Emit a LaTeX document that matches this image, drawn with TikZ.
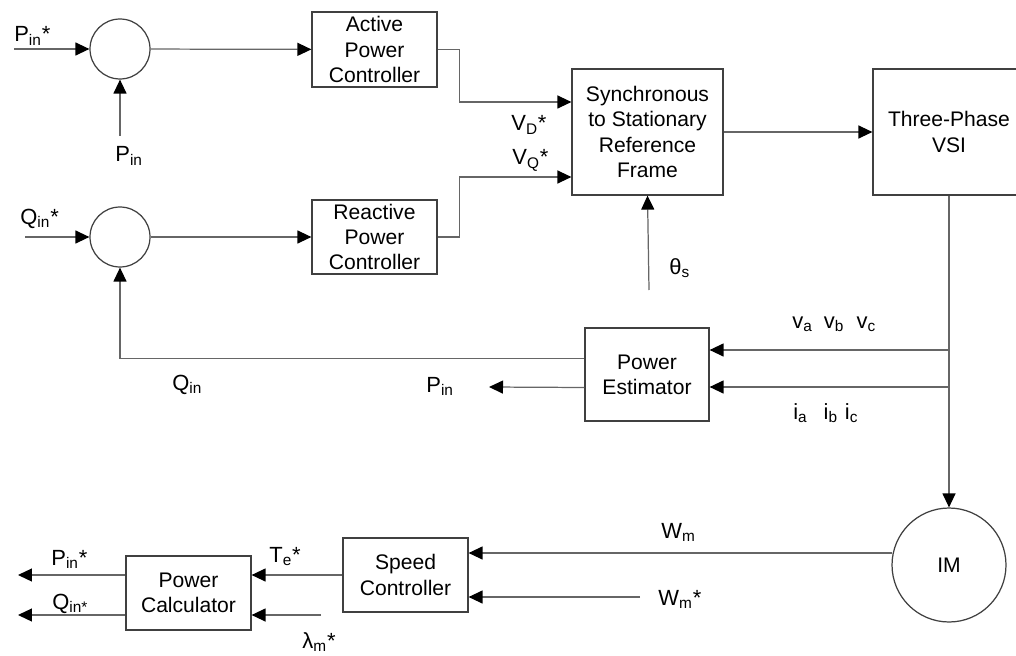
\documentclass[tikz,border=0pt]{standalone}
\usepackage{fontspec}
\setmainfont{Liberation Sans}
\usetikzlibrary{arrows.meta, calc, positioning}

\begin{document}
\begin{tikzpicture}[x=0.02cm, y=-0.02cm,
  >={Triangle[length=0.28cm, width=0.26cm, color=black]},
  every node/.style={font=\fontsize{12}{14.4}\selectfont},
  line/.style={draw=black!60, line width=0.7pt},
  block/.style={draw=black!75, line width=0.7pt, align=center, inner sep=0pt,
    minimum width=2.5cm, minimum height=1.5cm},
  junction/.style={circle, draw=black!75, line width=0.7pt, inner sep=0pt,
    minimum size=1.2cm},
  lbl/.style={anchor=base west, inner sep=0pt, font=\fontsize{12.5}{15}\selectfont}
]
  \useasboundingbox (0,0) rectangle (1016,655);

  % summing junctions and control blocks
  \node[junction] (sumP) at (120,49) {};
  \node[junction] (sumQ) at (120,237) {};
  \node[block] (apc) at (374.5,49.5) {Active\\Power\\Controller};
  \node[block, minimum height=1.48cm] (rpc) at (374.5,237) {Reactive\\Power\\Controller};
  \node[block, minimum width=3.02cm, minimum height=2.52cm] (ssrf) at (647.5,132)
    {Synchronous\\to Stationary\\Reference\\Frame};
  \node[block, minimum width=3.04cm, minimum height=2.52cm] (vsi) at (949,132) {Three-Phase\\VSI};
  \node[block, minimum width=2.48cm, minimum height=1.86cm] (pe) at (647,374.5) {Power\\Estimator};
  \node[junction, minimum size=2.28cm] (im) at (949,565) {IM};
  \node[block, minimum height=1.48cm] (sc) at (405.5,575) {Speed\\Controller};
  \node[block, minimum height=1.48cm] (pc) at (188.5,593) {Power\\Calculator};

  % free ends of the signal lines
  \coordinate (pinref) at (14,49);
  \coordinate (pinfb) at (120,136);
  \coordinate (qinref) at (25,237);
  \coordinate (theta) at (649,290);
  \coordinate (tapv) at (949,350);
  \coordinate (tapi) at (949,387);
  \coordinate (pinout) at (489,387);
  \coordinate (wmref) at (640,597);
  \coordinate (lamref) at (321,615);
  \coordinate (pout) at (18,575);
  \coordinate (qout) at (18,615);

  % upper loop
  \draw[line,->] (pinref) -- (sumP);
  \draw[line,->] (pinfb) -- (sumP);
  \draw[line,->] (sumP) -- (apc);
  \draw[line,->] (qinref) -- (sumQ);
  \draw[line,->] (sumQ) -- (rpc);
  \draw[line,->] (apc.east) -- ++(22,0) |- ($(ssrf.west)+(0,-30)$);
  \draw[line,->] (rpc.east) -- ++(22,0) |- ($(ssrf.west)+(0,45)$);
  \draw[line,->] (theta) -- (ssrf.south);
  \draw[line,->] (ssrf) -- (vsi);
  \draw[line,->] (vsi) -- (im);

  % measurement and feedback
  \draw[line,->] (tapv) -- (tapv -| pe.east);
  \draw[line,->] (tapi) -- (tapi -| pe.east);
  \draw[line,->] ($(pe.west)+(0,-16)$) -| (sumQ);
  \draw[line,->] ($(pe.west)+(0,13)$) -- (pinout);

  % speed loop
  \draw[line,->] ($(im.west)+(1,-12)$) -- ($(sc.east)+(0,-22)$);
  \draw[line,->] (wmref) -- (wmref -| sc.east);
  \draw[line,->] (sc) -- (sc.west -| pc.east);
  \draw[line,->] (lamref) -- (lamref -| pc.east);
  \draw[line,->] (pout -| pc.west) -- (pout);
  \draw[line,->] (qout -| pc.west) -- (qout);

  % signal labels
  \node[lbl] (lpinref) at (14,42) {P\textsubscript{in}*};
  \node[lbl] (lpinfb) at (115,162) {P\textsubscript{in}};
  \node[lbl] (lqinref) at (20,224) {Q\textsubscript{in}*};
  \node[lbl] (lvd) at (511,131) {V\textsubscript{D}*};
  \node[lbl] (lvq) at (512,165) {V\textsubscript{Q}*};
  \node[lbl] (ltheta) at (669,274) {θ\textsubscript{s}};
  \node[lbl] (lv) at (792,328) {v\textsubscript{a}\hspace{0.22cm}v\textsubscript{b}\hspace{0.25cm}v\textsubscript{c}};
  \node[lbl] (li) at (793,419) {i\textsubscript{a}\hspace{0.32cm}i\textsubscript{b}\hspace{0.14cm}i\textsubscript{c}};
  \node[lbl] (lqfb) at (172,390) {Q\textsubscript{in}};
  \node[lbl] (lpest) at (426,392) {P\textsubscript{in}};
  \node[lbl] (lwm) at (661,538) {W\textsubscript{m}};
  \node[lbl] (lwmref) at (658,605) {W\textsubscript{m}*};
  \node[lbl] (lte) at (269,562) {T\textsubscript{e}*};
  \node[lbl] (lpout) at (51,565) {P\textsubscript{in}*};
  \node[lbl] (lqout) at (52,609) {Q\textsubscript{in*}};
  \node[lbl] (llam) at (302,648) {λ\textsubscript{m}*};
\end{tikzpicture}
\end{document}
